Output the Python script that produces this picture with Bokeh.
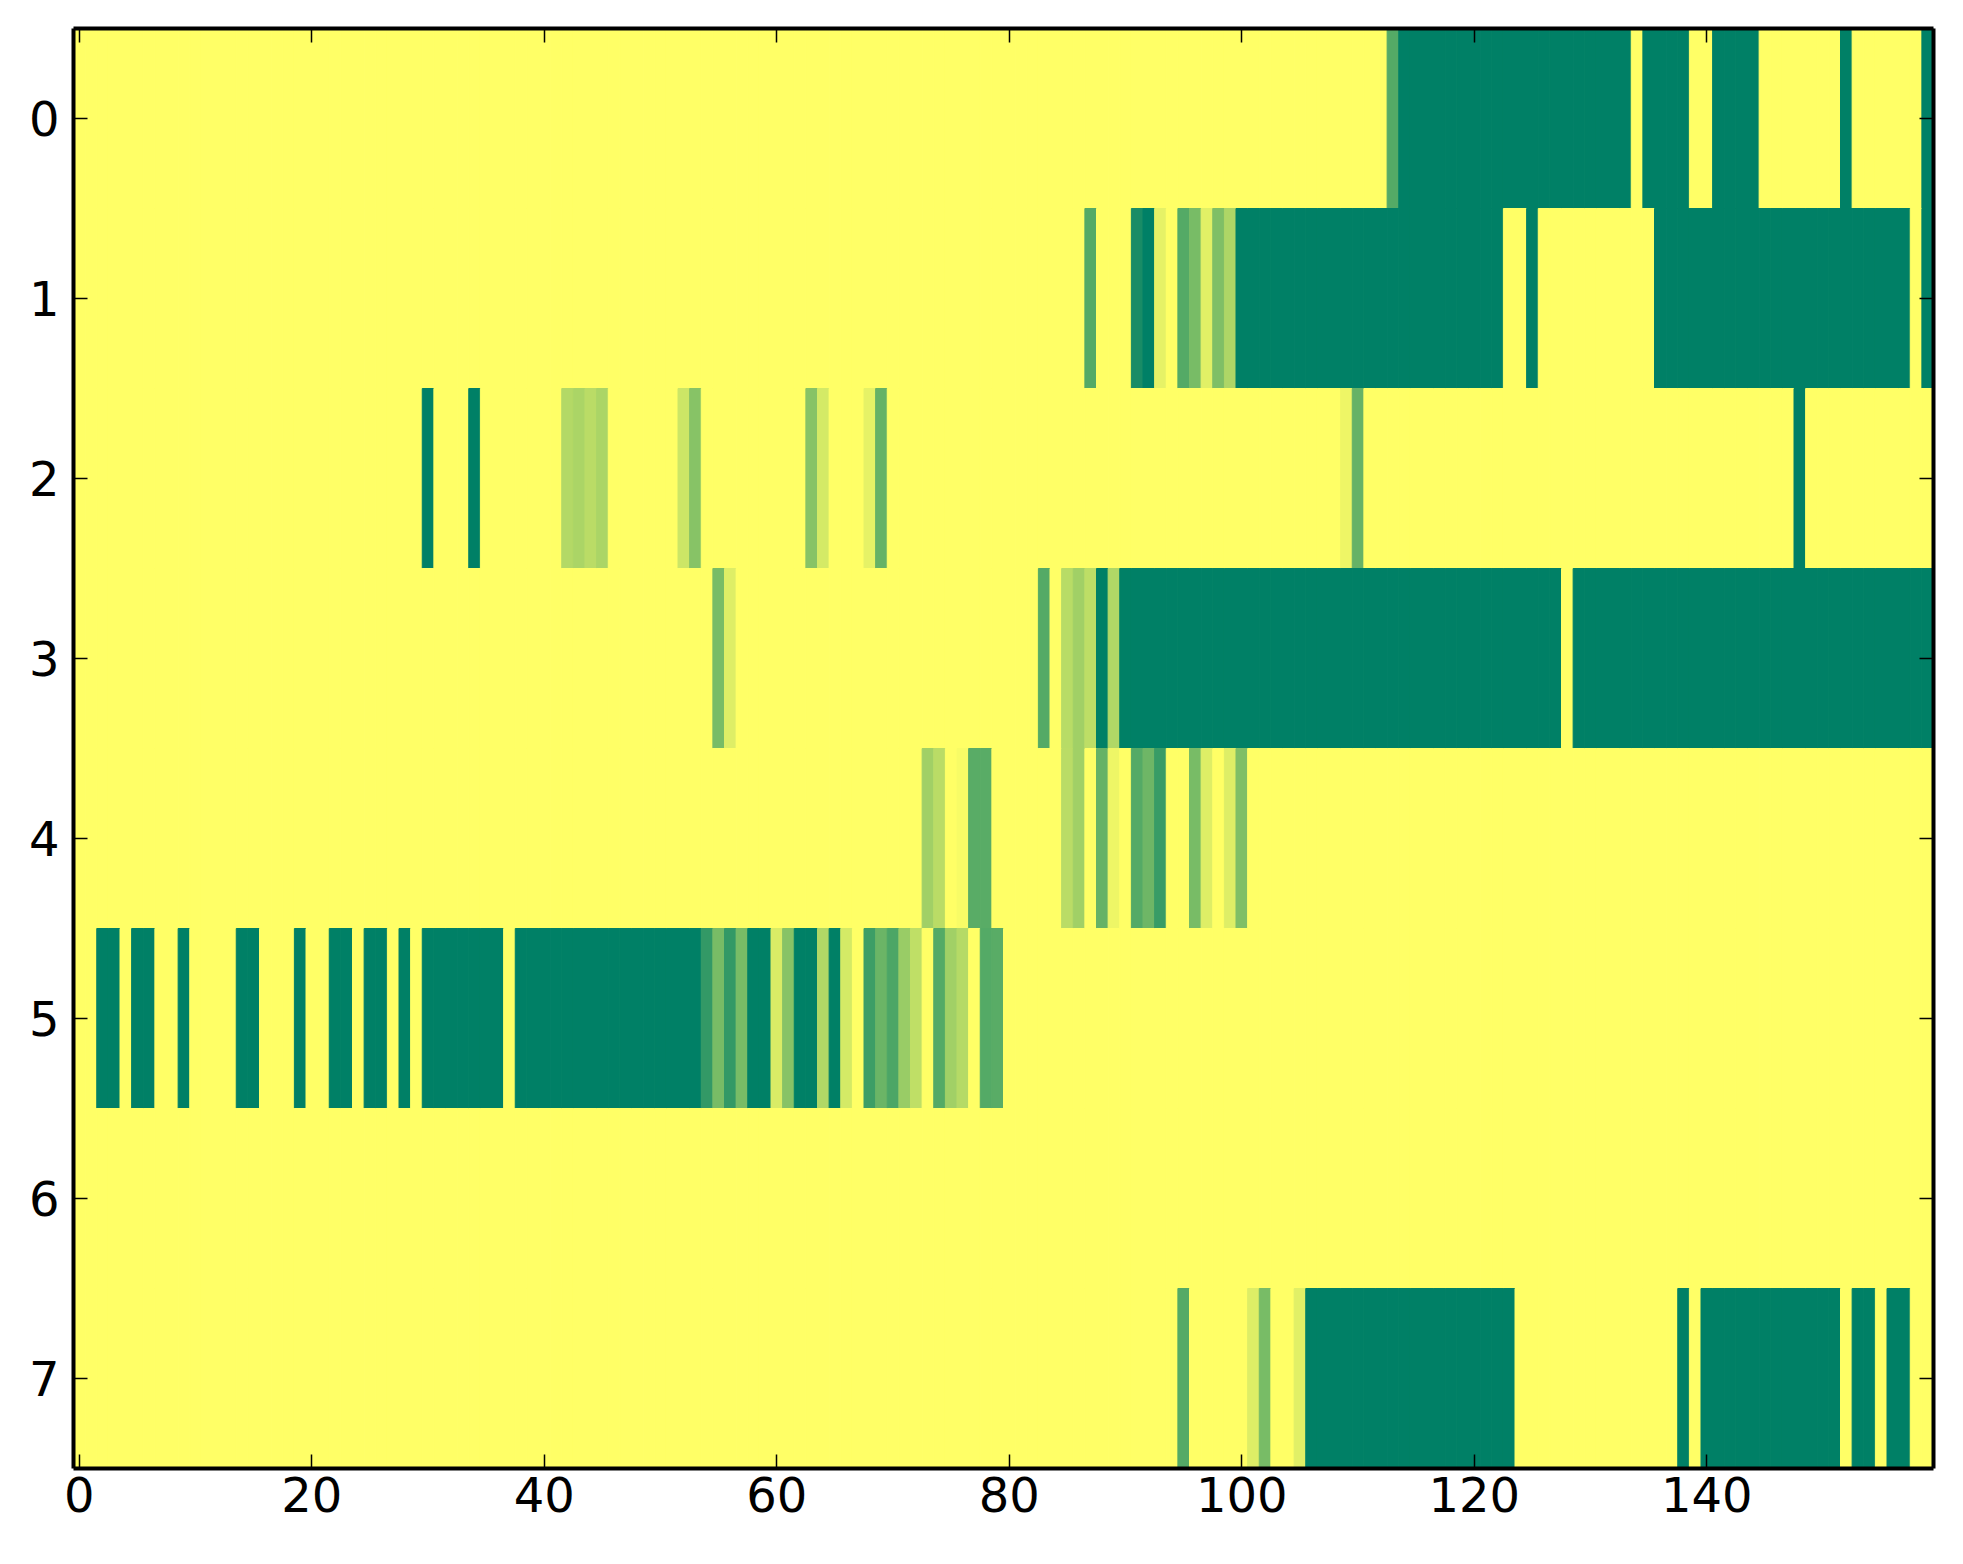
import numpy as np
from bokeh.plotting import figure
from bokeh.models import Range1d, LinearColorMapper, LinearAxis, FixedTicker, ColumnDataSource
from bokeh.transform import transform
from bokeh.embed import file_html
from bokeh.resources import INLINE

# ---- data: one list of 160 cell values per row (0 = yellow, 1 = dark green) ----
Z = [0] * 20
row0 = Z + Z + Z + Z + Z + \
    [0, 0, 0, 0, 0, 0, 0, 0, 0, 0, 0, 0, 0, 0.67, 1, 1, 1, 1, 1, 1] + \
    [1, 1, 1, 1, 1, 1, 1, 1, 1, 1, 1, 1, 1, 1, 0, 1, 1, 1, 1, 0] + \
    [0, 1, 1, 1, 1, 0, 0, 0, 0, 0, 0, 0, 1, 0, 0, 0, 0, 0, 0, 1]
row1 = Z + Z + Z + Z + \
    [0, 0, 0, 0, 0, 0, 0, 0.67, 0, 0, 0, 0.9, 1, 0.1, 0, 0.67, 0.53, 0.12, 0.5, 0.32] + \
    [1, 1, 1, 1, 1, 1, 1, 1, 1, 1, 1, 1, 1, 1, 1, 1, 1, 1, 1, 1] + \
    [1, 1, 1, 0, 0, 1, 0, 0, 0, 0, 0, 0, 0, 0, 0, 0, 1, 1, 1, 1] + \
    [1, 1, 1, 1, 1, 1, 1, 1, 1, 1, 1, 1, 1, 1, 1, 1, 1, 1, 0, 1]
row2 = Z + \
    [0, 0, 0, 0, 0, 0, 0, 0, 0, 0, 1, 0, 0, 0, 1, 0, 0, 0, 0, 0] + \
    [0, 0, 0.3, 0.33, 0.27, 0.33, 0, 0, 0, 0, 0, 0, 0.2, 0.47, 0, 0, 0, 0, 0, 0] + \
    [0, 0, 0, 0.47, 0.17, 0, 0, 0, 0.1, 0.6, 0, 0, 0, 0, 0, 0, 0, 0, 0, 0] + \
    Z + \
    [0, 0, 0, 0, 0, 0, 0, 0, 0, 0.07, 0.6, 0, 0, 0, 0, 0, 0, 0, 0, 0] + \
    Z + \
    [0, 0, 0, 0, 0, 0, 0, 0, 1, 0, 0, 0, 0, 0, 0, 0, 0, 0, 0, 0]
row3 = Z + Z + \
    [0, 0, 0, 0, 0, 0, 0, 0, 0, 0, 0, 0, 0, 0, 0, 0.53, 0.13, 0, 0, 0] + \
    Z + \
    [0, 0, 0, 0.67, 0, 0.28, 0.37, 0.26, 1, 0.31, 1, 1, 1, 1, 1, 1, 1, 1, 1, 1] + \
    [1, 1, 1, 1, 1, 1, 1, 1, 1, 1, 1, 1, 1, 1, 1, 1, 1, 1, 1, 1] + \
    [1, 1, 1, 1, 1, 1, 1, 1, 0, 1, 1, 1, 1, 1, 1, 1, 1, 1, 1, 1] + \
    [1, 1, 1, 1, 1, 1, 1, 1, 1, 1, 1, 1, 1, 1, 1, 1, 1, 1, 1, 1]
row4 = Z + Z + Z + \
    [0, 0, 0, 0, 0, 0, 0, 0, 0, 0, 0, 0, 0, 0.37, 0.27, 0, 0.03, 0.65, 0.65, 0] + \
    [0, 0, 0, 0, 0, 0.27, 0.37, 0, 0.6, 0.07, 0, 0.67, 0.57, 0.78, 0, 0, 0.53, 0.13, 0, 0.13] + \
    [0.5, 0, 0, 0, 0, 0, 0, 0, 0, 0, 0, 0, 0, 0, 0, 0, 0, 0, 0, 0] + \
    Z + Z
row5 = [0, 0, 1, 1, 0, 1, 1, 0, 0, 1, 0, 0, 0, 0, 1, 1, 0, 0, 0, 1] + \
    [0, 0, 1, 1, 0, 1, 1, 0, 1, 0, 1, 1, 1, 1, 1, 1, 1, 0, 1, 1] + \
    [1, 1, 1, 1, 1, 1, 1, 1, 1, 1, 1, 1, 1, 1, 0.8, 0.53, 0.8, 0.53, 1, 1] + \
    [0.15, 0.47, 1, 1, 0.31, 1, 0.17, 0, 0.76, 0.58, 0.7, 0.4, 0.25, 0, 0.67, 0.37, 0.29, 0, 0.67, 0.65] + \
    Z + Z + Z + Z
row6 = Z + Z + Z + Z + Z + Z + Z + Z
row7 = Z + Z + Z + Z + \
    [0, 0, 0, 0, 0, 0, 0, 0, 0, 0, 0, 0, 0, 0, 0, 0.67, 0, 0, 0, 0] + \
    [0, 0.13, 0.53, 0, 0, 0.12, 1, 1, 1, 1, 1, 1, 1, 1, 1, 1, 1, 1, 1, 1] + \
    [1, 1, 1, 1, 0, 0, 0, 0, 0, 0, 0, 0, 0, 0, 0, 0, 0, 0, 1, 0] + \
    [1, 1, 1, 1, 1, 1, 1, 1, 1, 1, 1, 1, 0, 1, 1, 0, 1, 1, 0, 0]
rows = [row0, row1, row2, row3, row4, row5, row6, row7]

x_ticks = [0, 20, 40, 60, 80, 100, 120, 140]
y_ticks = [0, 1, 2, 3, 4, 5, 6, 7]

# ---- build cell table ----
xs, ys, vs = [], [], []
for r, row in enumerate(rows):
    for c, v in enumerate(row):
        xs.append(c)
        ys.append(r)
        vs.append(v)
src = ColumnDataSource(dict(x=xs, y=ys, v=vs))

# summer_r colormap
pal = []
for i in range(256):
    t = i / 255.0
    r_, g_, b_ = 1 - t, 1 - t / 2, 0.4
    pal.append("#%02x%02x%02x" % (int(round(r_ * 255)), int(round(g_ * 255)), int(round(b_ * 255))))
mapper = LinearColorMapper(palette=pal, low=0, high=1)

ncols = len(row0)
nrows = len(rows)

p = figure(width=1945, height=1548, output_backend="svg", toolbar_location=None,
           x_range=Range1d(-0.5, ncols - 0.5), y_range=Range1d(nrows - 0.5, -0.5),
           min_border_left=73, min_border_right=12, min_border_top=28, min_border_bottom=80,
           x_axis_location=None, y_axis_location=None)
p.grid.visible = False
p.outline_line_color = None
p.background_fill_color = "white"

p.rect(x="x", y="y", width=1, height=1, source=src,
       fill_color=transform("v", mapper), line_color=transform("v", mapper), line_width=1)

FONT = "DejaVu Sans"

def style(ax, labels=True):
    ax.axis_line_color = "black"
    ax.axis_line_width = 4
    ax.major_tick_in = 14
    ax.major_tick_out = 0
    ax.major_tick_line_width = 1.5
    ax.major_tick_line_color = "black"
    ax.minor_tick_line_color = None
    ax.major_label_text_font = FONT
    if labels:
        ax.major_label_text_color = "black"
        ax.major_label_text_font_size = "48px"
    else:
        ax.major_label_text_color = None
        ax.major_label_text_font_size = "1px"
        ax.major_label_standoff = 0

xb = LinearAxis(ticker=FixedTicker(ticks=x_ticks))
style(xb)
xb.major_label_standoff = 8
p.add_layout(xb, "below")
xt = LinearAxis(ticker=FixedTicker(ticks=x_ticks))
style(xt, labels=False)
p.add_layout(xt, "above")

yl = LinearAxis(ticker=FixedTicker(ticks=y_ticks))
style(yl)
yl.major_label_standoff = 14
p.add_layout(yl, "left")
yr = LinearAxis(ticker=FixedTicker(ticks=y_ticks))
style(yr, labels=False)
p.add_layout(yr, "right")

open("out.html", "w").write(file_html(p, INLINE))
